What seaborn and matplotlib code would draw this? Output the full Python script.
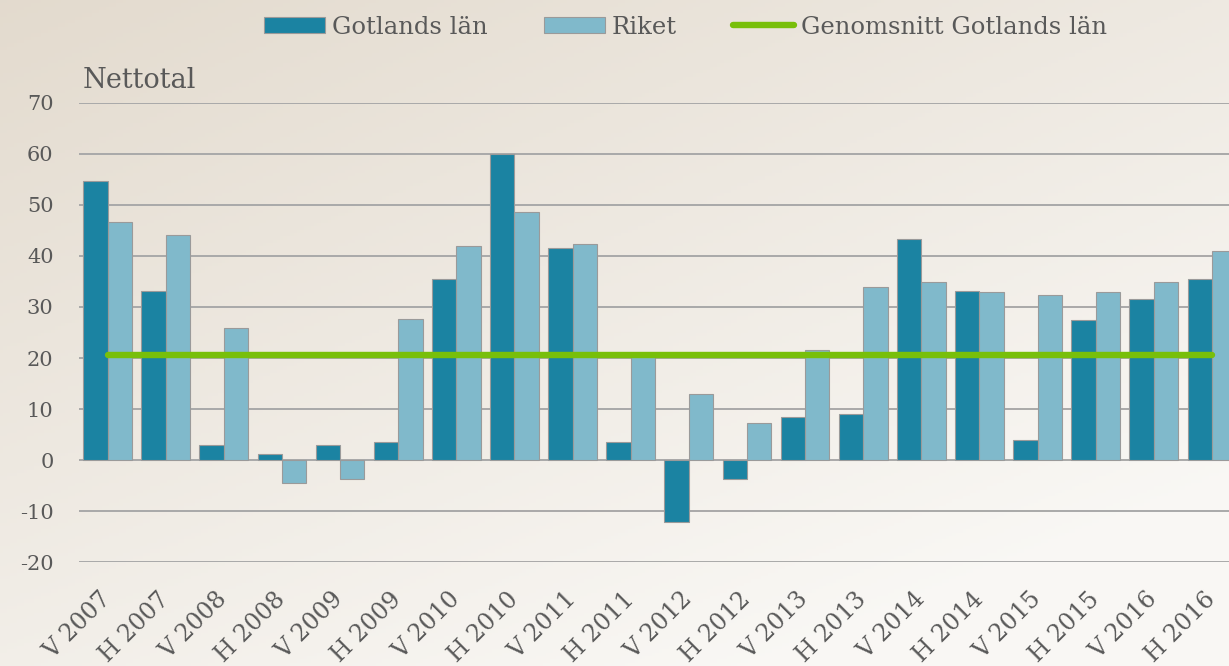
import numpy as np
import pandas as pd
import matplotlib
matplotlib.use("Agg")
import matplotlib.pyplot as plt
import seaborn as sns
from matplotlib.patches import Patch
from matplotlib.lines import Line2D

# ---- data ----
perioder = ["V 2007", "H 2007", "V 2008", "H 2008", "V 2009", "H 2009",
            "V 2010", "H 2010", "V 2011", "H 2011", "V 2012", "H 2012",
            "V 2013", "H 2013", "V 2014", "H 2014", "V 2015", "H 2015",
            "V 2016", "H 2016"]
gotland = [54.7, 33.2, 2.9, 1.2, 2.9, 3.6, 35.4, 60.0, 41.6, 3.6,
           -12.1, -3.7, 8.4, 9.0, 43.4, 33.2, 3.9, 27.4, 31.5, 35.4]
riket = [46.6, 44.0, 25.9, -4.4, -3.7, 27.6, 41.9, 48.5, 42.3, 20.6,
         12.9, 7.2, 21.5, 33.9, 34.8, 33.0, 32.4, 33.0, 34.8, 41.0]
genomsnitt = 20.5
serier = ["Gotlands län", "Riket"]
yticks = [-20, -10, 0, 10, 20, 30, 40, 50, 60, 70]

df = pd.DataFrame({
    "Period": perioder * 2,
    "Serie": [serier[0]] * len(perioder) + [serier[1]] * len(perioder),
    "Värde": gotland + riket,
})

# ---- style ----
sns.set_theme(style="white")
plt.rcParams["font.family"] = ["DejaVu Serif", "DejaVu Sans"]
txt = "#595959"
c_dark = "#1b83a2"
c_light = "#80b9cb"
c_green = "#78bf0a"
grid_c = "#a9a9a9"

W, H = 1229, 666
fig = plt.figure(figsize=(W / 100, H / 100), dpi=100)

# background gradient
bg = fig.add_axes([0, 0, 1, 1], zorder=-10)
yy, xx = np.mgrid[0:1:200j, 0:1:360j]
t = np.clip((xx * 0.55 + yy * 0.75) / 1.1, 0, 1)
c0 = np.array([0.890, 0.857, 0.808])
c1 = np.array([0.978, 0.972, 0.960])
img = c0[None, None, :] * (1 - t[..., None]) + c1[None, None, :] * t[..., None]
bg.imshow(img, aspect="auto", extent=[0, 1, 1, 0])
bg.set_axis_off()

left = 78.5 / W
right = 1241 / W
top = 1 - 102.7 / H
bottom = 1 - 562.3 / H
ax = fig.add_axes([left, bottom, right - left, top - bottom])
ax.set_facecolor("none")

sns.barplot(data=df, x="Period", y="Värde", hue="Serie", order=perioder,
            hue_order=serier, palette=[c_dark, c_light], width=0.84,
            edgecolor="#9a9a9a", linewidth=0.8, saturation=1,
            legend=False, ax=ax, zorder=3)

xs = np.arange(len(perioder))
ax.plot(xs, [genomsnitt] * len(perioder), color=c_green, lw=4.6,
        solid_capstyle="round", zorder=5)

ax.set_xlim(-0.5, len(perioder) - 0.5)
ax.set_ylim(-20, 70)
ax.set_yticks(yticks)
ax.set_yticklabels([str(v) for v in yticks])
for y in yticks:
    ax.axhline(y, color=grid_c, lw=1.4, zorder=1)
for s in ax.spines.values():
    s.set_visible(False)
ax.set_xlabel("")
ax.set_ylabel("")
ax.tick_params(axis="y", length=0, pad=18, labelsize=15, labelcolor=txt)
ax.tick_params(axis="x", length=0, pad=24, labelsize=17, labelcolor=txt)
ax.set_xticks(xs)
ax.set_xticklabels(perioder, rotation=45, ha="right", va="center",
                   rotation_mode="anchor")

fig.text(83 / W, 1 - 88 / H, "Nettotal", fontsize=19.5, color=txt,
         ha="left", va="baseline")

handles = [
    Patch(facecolor=c_dark, edgecolor="#9a9a9a", linewidth=0.8),
    Patch(facecolor=c_light, edgecolor="#9a9a9a", linewidth=0.8),
    Line2D([0], [0], color=c_green, lw=4.6, solid_capstyle="round"),
]
labels = ["Gotlands län", "Riket", "Genomsnitt Gotlands län"]
fig.legend(handles, labels, loc="center", bbox_to_anchor=(0.558, 1 - 27 / H),
           ncol=3, frameon=False, fontsize=17.5, labelcolor=txt,
           handlelength=2.5, handleheight=0.65, handletextpad=0.3,
           columnspacing=2.3)

fig.savefig("out.png", dpi=100)
